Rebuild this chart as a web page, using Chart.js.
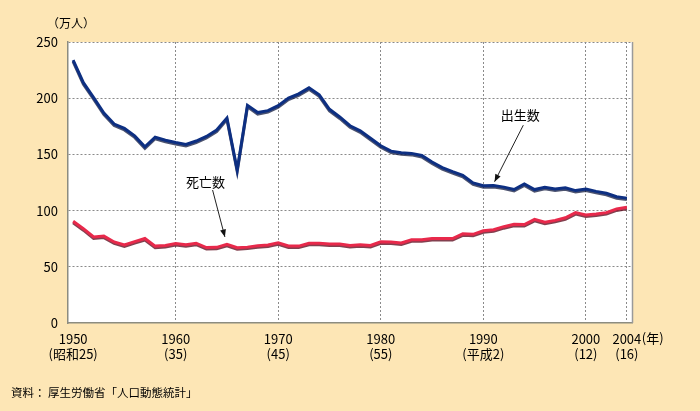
<!DOCTYPE html>
<html lang="ja">
<head>
<meta charset="UTF-8">
<title>出生数・死亡数の推移</title>
<script src="https://cdn.jsdelivr.net/npm/chart.js"></script>
<style>
    html, body {
        margin: 0;
        padding: 0;
        background-color: #fde6b5;
    }
    #wrap {
        width: 700px;
        height: 411px;
        position: relative;
    }
</style>
</head>
<body>
<div id="wrap"><canvas id="grafico" width="700" height="411"></canvas></div>

<script>
    // 年 1950〜2004
    const anos = [];
    for (let a = 1950; a <= 2004; a++) anos.push(a);

    // 出生数（万人）
    const nascimentos = [
        233.8, 213.8, 200.5, 186.8, 177.0, 173.1, 166.5, 156.7, 165.3, 162.6,
        160.6, 158.9, 161.9, 166.0, 171.7, 182.4, 136.1, 193.6, 187.2, 188.9,
        193.4, 200.1, 203.9, 209.2, 203.0, 190.1, 183.3, 175.5, 170.9, 164.3,
        157.7, 152.9, 151.5, 150.9, 149.0, 143.2, 138.3, 134.7, 131.4, 124.7,
        122.2, 122.3, 120.9, 118.8, 123.8, 118.7, 120.7, 119.2, 120.3, 117.8,
        119.1, 117.1, 115.4, 112.4, 111.1
    ];

    // 死亡数（万人）
    const obitos = [
        90.5, 83.9, 76.5, 77.3, 72.1, 69.4, 72.4, 75.2, 68.4, 69.0,
        70.7, 69.6, 71.0, 67.1, 67.3, 70.0, 67.0, 67.5, 68.7, 69.4,
        71.3, 68.5, 68.4, 70.9, 71.0, 70.2, 70.3, 69.0, 69.6, 69.0,
        72.3, 72.0, 71.2, 74.0, 74.0, 75.2, 75.1, 75.1, 79.3, 78.9,
        82.0, 83.0, 85.7, 87.8, 87.6, 92.2, 89.6, 91.3, 93.6, 98.2,
        96.2, 97.0, 98.2, 101.5, 102.9
    ];

    // 目盛り
    const ticksX = [1950, 1960, 1970, 1980, 1990, 2000, 2004];
    const rotulosX = ['(昭和25)', '(35)', '(45)', '(55)', '(平成2)', '(12)', '(16)'];

    const fonte = '"Noto Sans CJK JP", "Noto Sans", sans-serif';

    const pluginFundo = {
        id: 'fundo',
        beforeDraw(chart) {
            const { ctx, chartArea: a } = chart;
            ctx.save();
            ctx.fillStyle = '#fde6b5';
            ctx.fillRect(0, 0, chart.width, chart.height);
            ctx.fillStyle = '#ffffff';
            ctx.fillRect(a.left, a.top, a.right - a.left, a.bottom - a.top);
            ctx.restore();
        },
        beforeDatasetDraw(chart, args) {
            const ctx = chart.ctx;
            ctx.save();
            ctx.shadowColor = args.index === 0 ? 'rgba(0,10,50,0.7)' : 'rgba(90,0,20,0.75)';
            ctx.shadowOffsetY = 1.5;
            ctx.shadowBlur = 0;
        },
        afterDatasetDraw(chart) {
            chart.ctx.restore();
        },
        afterDraw(chart) {
            const { ctx, chartArea: a, scales: { x, y } } = chart;
            ctx.save();
            // 右の枠
            ctx.strokeStyle = '#9a9a9a';
            ctx.lineWidth = 1.5;
            ctx.beginPath();
            ctx.moveTo(a.right + 0.5, a.top);
            ctx.lineTo(a.right + 0.5, a.bottom);
            ctx.stroke();

            ctx.fillStyle = '#000';
            ctx.font = '12px ' + fonte;
            ctx.textBaseline = 'middle';
            ctx.textAlign = 'left';
            ctx.fillText('（万人）', 47, 23);
            ctx.font = '11.5px ' + fonte;
            ctx.fillText('資料： 厚生労働省「人口動態統計」', 11, 393);

            ctx.font = '13px ' + fonte;
            ctx.fillText('(年)', x.getPixelForValue(2004) + 15, 338);

            // 注記と矢印
            const notas = [
                { texto: '死亡数', tx: 1962.9, ty: 125.7, x0: 1963.6, y0: 118.3, x1: 1964.8, y1: 76.6 },
                { texto: '出生数', tx: 1993.6, ty: 184.9, x0: 1993.9, y0: 176.0, x1: 1991.1, y1: 125.7 }
            ];
            ctx.textAlign = 'center';
            notas.forEach(n => {
                ctx.fillStyle = '#000';
                ctx.fillText(n.texto, x.getPixelForValue(n.tx), y.getPixelForValue(n.ty));
                const px0 = x.getPixelForValue(n.x0), py0 = y.getPixelForValue(n.y0);
                const px1 = x.getPixelForValue(n.x1), py1 = y.getPixelForValue(n.y1);
                ctx.strokeStyle = '#222';
                ctx.lineWidth = 1;
                ctx.beginPath();
                ctx.moveTo(px0, py0);
                ctx.lineTo(px1, py1);
                ctx.stroke();
                const ang = Math.atan2(py1 - py0, px1 - px0);
                const L = 8, W = 0.38;
                ctx.beginPath();
                ctx.moveTo(px1, py1);
                ctx.lineTo(px1 - L * Math.cos(ang - W), py1 - L * Math.sin(ang - W));
                ctx.lineTo(px1 - L * Math.cos(ang + W), py1 - L * Math.sin(ang + W));
                ctx.closePath();
                ctx.fillStyle = '#111';
                ctx.fill();
            });
            ctx.restore();
        }
    };

    new Chart(document.getElementById('grafico'), {
        type: 'line',
        data: {
            datasets: [
                {
                    label: '出生数',
                    data: anos.map((a, i) => ({ x: a, y: nascimentos[i] })),
                    borderColor: '#0d2f82',
                    borderWidth: 3,
                    pointRadius: 0,
                    tension: 0
                },
                {
                    label: '死亡数',
                    data: anos.map((a, i) => ({ x: a, y: obitos[i] })),
                    borderColor: '#e8294b',
                    borderWidth: 3,
                    pointRadius: 0,
                    tension: 0
                }
            ]
        },
        options: {
            responsive: false,
            animation: false,
            layout: { padding: { left: 0, right: 68, top: 42, bottom: 0 } },
            plugins: {
                legend: { display: false },
                tooltip: { enabled: false }
            },
            scales: {
                x: {
                    type: 'linear',
                    min: 1949.5,
                    max: 2004.5,
                    afterBuildTicks: s => { s.ticks = ticksX.map(v => ({ value: v })); },
                    afterFit: s => { s.height = 88; },
                    grid: {
                        color: c => (c.tick && c.tick.value === 1950) ? 'rgba(0,0,0,0)' : '#8a8a8a',
                        lineWidth: 1,
                        drawTicks: false
                    },
                    border: { display: true, color: '#8c8c80', width: 1.5, dash: [2, 2] },
                    ticks: {
                        padding: 8,
                        color: '#000',
                        font: { size: 13, family: fonte },
                        maxRotation: 0,
                        autoSkip: false,
                        callback: v => [String(v), rotulosX[ticksX.indexOf(v)]]
                    }
                },
                y: {
                    min: 0,
                    max: 250,
                    afterFit: s => { s.width = 68; },
                    grid: {
                        color: c => (c.tick && c.tick.value === 0) ? 'rgba(0,0,0,0)' : '#8a8a8a',
                        lineWidth: 1,
                        drawTicks: false
                    },
                    border: { display: true, color: '#8c8c80', width: 1.5, dash: [2, 2] },
                    ticks: {
                        stepSize: 50,
                        padding: 10,
                        color: '#000',
                        font: { size: 13, family: fonte }
                    }
                }
            }
        },
        plugins: [pluginFundo]
    });
</script>
</body>
</html>
